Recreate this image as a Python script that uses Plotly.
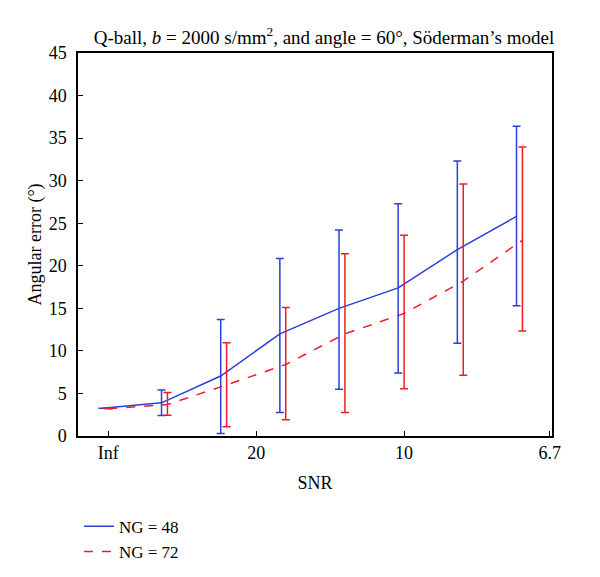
import plotly.graph_objects as go

snr_labels = ["Inf", "20", "10", "6.7"]
snr_ticks = [float("inf"), 20, 10, 6.7]
snr_points = [float("inf"), 50, 25, 50 / 3, 12.5, 10, 25 / 3, 50 / 7]

ng48_mean = [3.25, 3.9, 7.05, 12.0, 15.0, 17.4, 21.9, 25.8]
ng48_hi = [3.25, 5.4, 13.7, 20.85, 24.2, 27.3, 32.3, 36.4]
ng48_lo = [3.25, 2.4, 0.3, 2.75, 5.5, 7.4, 10.9, 15.3]

ng72_mean = [3.2, 3.7, 6.0, 8.4, 12.0, 14.4, 18.2, 23.0]
ng72_hi = [3.2, 5.1, 10.95, 15.1, 21.4, 23.6, 29.6, 33.95]
ng72_lo = [3.2, 2.45, 1.1, 1.9, 2.75, 5.55, 7.15, 12.35]


def inv(s):
    return 0.0 if s == float("inf") else 1.0 / s


x_red = [inv(s) for s in snr_points]
x_blue = [v - 0.002 for v in x_red]

BLUE = "#2b3fd9"
RED = "#ee1d25"
FONT = "Liberation Serif, Times New Roman, serif"

fig = go.Figure()
fig.add_trace(go.Scatter(
    x=x_blue, y=ng48_mean, mode="lines", name="NG = 48",
    line=dict(color=BLUE, width=1.5),
    error_y=dict(type="data", symmetric=False,
                 array=[h - m for h, m in zip(ng48_hi, ng48_mean)],
                 arrayminus=[m - l for m, l in zip(ng48_mean, ng48_lo)],
                 color=BLUE, thickness=1.5, width=4),
))
fig.add_trace(go.Scatter(
    x=x_red, y=ng72_mean, mode="lines", name="NG = 72",
    line=dict(color=RED, width=1.5, dash="dash"),
    error_y=dict(type="data", symmetric=False,
                 array=[h - m for h, m in zip(ng72_hi, ng72_mean)],
                 arrayminus=[m - l for m, l in zip(ng72_mean, ng72_lo)],
                 color=RED, thickness=1.5, width=4),
))

fig.update_layout(
    width=592, height=569,
    margin=dict(l=70, r=48, t=45, b=141, autoexpand=False),
    paper_bgcolor="white", plot_bgcolor="white",
    font=dict(family=FONT, size=18, color="black"),
    title=dict(text="Q-ball, <i>b</i> = 2000 s/mm<sup>2</sup>, and angle = 60°, Söderman’s model",
               x=0.519, xref="paper", xanchor="center", y=0.948, yanchor="middle",
               font=dict(family=FONT, size=19, color="black")),
    showlegend=True,
    legend=dict(x=0.002, xanchor="left", y=-0.19, yanchor="top",
                bgcolor="rgba(0,0,0,0)", font=dict(family=FONT, size=17),
                tracegroupgap=0, itemwidth=30),
    xaxis=dict(range=[-0.01024, 0.15], tickmode="array",
               tickvals=[inv(s) for s in snr_ticks], ticktext=snr_labels,
               ticks="inside", ticklen=5, tickcolor="black",
               showline=True, linecolor="black", linewidth=1.5, mirror=True,
               showgrid=False, zeroline=False, automargin=False,
               tickfont=dict(size=18),
               title=dict(text="SNR", standoff=14, font=dict(size=18))),
    yaxis=dict(range=[0, 45], tickmode="array", tickvals=list(range(0, 46, 5)),
               ticks="inside", ticklen=5, tickcolor="black",
               showline=True, linecolor="black", linewidth=1.5, mirror=True,
               showgrid=False, zeroline=False, automargin=False,
               tickfont=dict(size=18), ticklabelstandoff=6,
               title=dict(text="Angular error (°)", standoff=2, font=dict(size=18))),
)

fig.write_html("out.html")
